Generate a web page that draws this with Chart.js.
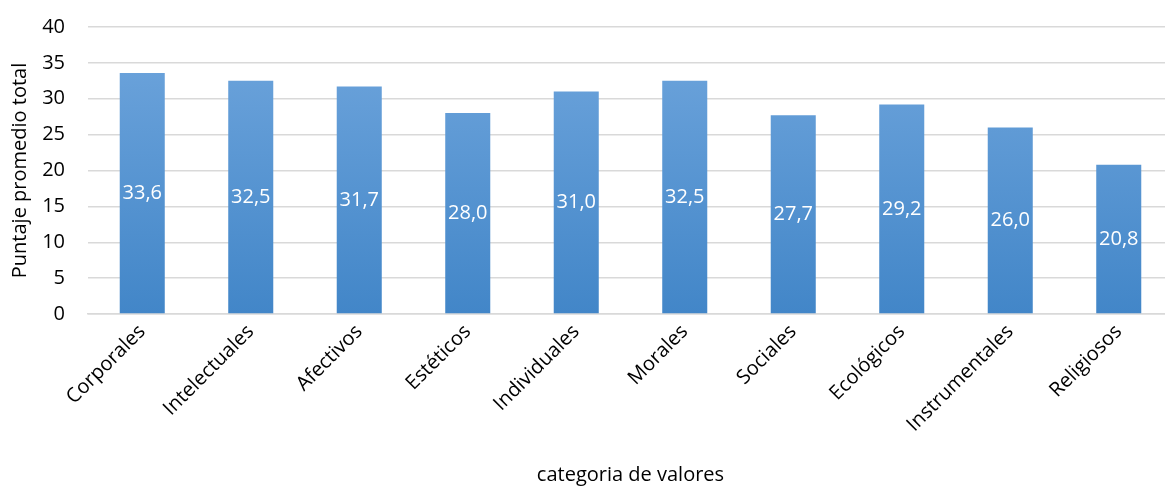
<!DOCTYPE html>
<html>
<head>
<meta charset="utf-8">
<script src="https://cdn.jsdelivr.net/npm/chart.js@4"></script>
<style>
  html, body { margin: 0; padding: 0; background: #fff; overflow: hidden; }
  #wrap { width: 1173px; height: 487px; }
</style>
</head>
<body>
<div id="wrap"><canvas id="valoresChart"></canvas></div>
<script>
const categorias = ["Corporales", "Intelectuales", "Afectivos", "Estéticos", "Individuales", "Morales", "Sociales", "Ecológicos", "Instrumentales", "Religiosos"];
const puntajes = [33.6, 32.5, 31.7, 28.0, 31.0, 32.5, 27.7, 29.2, 26.0, 20.8];
const yTicks = [0, 5, 10, 15, 20, 25, 30, 35, 40];

const FONT = "'Open Sans', 'Liberation Sans', sans-serif";

// draw the value inside each bar, centred vertically
const barLabels = {
  id: "barLabels",
  afterDatasetsDraw(chart) {
    const ctx = chart.ctx;
    const meta = chart.getDatasetMeta(0);
    ctx.save();
    ctx.font = "20px " + FONT;
    ctx.fillStyle = "#ffffff";
    ctx.textAlign = "center";
    ctx.textBaseline = "middle";
    meta.data.forEach((bar, i) => {
      const mid = (bar.y + bar.base) / 2;
      ctx.fillText(puntajes[i].toFixed(1).replace(".", ","), bar.x, mid);
    });
    ctx.restore();
  }
};

function barGradient(context) {
  const chart = context.chart;
  const area = chart.chartArea;
  if (!area) return "#5b9bd5";
  const g = chart.ctx.createLinearGradient(0, area.top, 0, area.bottom);
  g.addColorStop(0, "#70a6dd");
  g.addColorStop(1, "#4286c8");
  return g;
}

new Chart(document.getElementById("valoresChart"), {
  type: "bar",
  data: {
    labels: categorias,
    datasets: [{
      data: puntajes,
      backgroundColor: barGradient,
      borderWidth: 0,
      barPercentage: 0.415,
      categoryPercentage: 1.0
    }]
  },
  options: {
    responsive: true,
    maintainAspectRatio: false,
    animation: false,
    devicePixelRatio: 1,
    layout: { padding: { left: 0, right: 0, top: 0, bottom: 0 } },
    plugins: {
      legend: { display: false },
      tooltip: { enabled: false }
    },
    scales: {
      x: {
        afterFit(axis) { axis.height = 173; },
        grid: { display: false, drawTicks: false },
        border: { display: true, color: "#d9d9d9", width: 1.5 },
        ticks: {
          color: "#000",
          font: { family: FONT, size: 20 },
          minRotation: 45,
          maxRotation: 45,
          padding: 6
        },
        title: {
          display: true,
          text: "categoria de valores",
          color: "#000",
          font: { family: FONT, size: 20 },
          padding: { top: 0, bottom: 0 }
        }
      },
      y: {
        min: 0,
        max: 40,
        afterBuildTicks(axis) { axis.ticks = yTicks.map(v => ({ value: v })); },
        afterFit(axis) { axis.width = 88; },
        grid: {
          color: "#d9d9d9",
          lineWidth: 1.5,
          drawTicks: true,
          tickLength: 8,
          tickColor: "rgba(0,0,0,0)"
        },
        border: { display: false },
        ticks: {
          color: "#000",
          font: { family: FONT, size: 20 },
          padding: 15
        },
        title: {
          display: true,
          text: "Puntaje promedio total",
          color: "#000",
          font: { family: FONT, size: 20 },
          padding: { top: 8, bottom: 0 }
        }
      }
    }
  },
  plugins: [barLabels]
});
</script>
</body>
</html>
